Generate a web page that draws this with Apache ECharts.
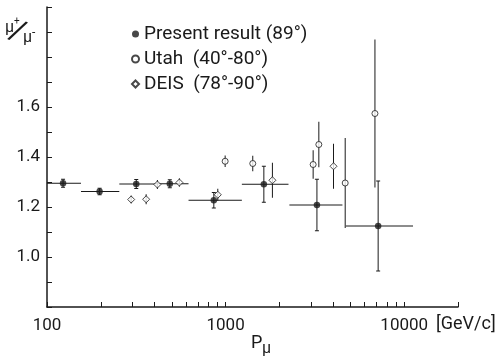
<!DOCTYPE html>
<html><head><meta charset="utf-8">
<script src="https://cdn.jsdelivr.net/npm/echarts@6/dist/echarts.min.js"></script>
<style>html,body{margin:0;padding:0;background:#fff}#c{width:500px;height:357px}</style>
</head><body><div id="c"></div>
<script>
// ---- data ----
const presentP = [123, 197, 316, 487, 859, 1637, 3245, 7145];
const presentRatio = [1.295, 1.262, 1.292, 1.293, 1.227, 1.291, 1.208, 1.124];
const presentErr = [0.016, 0.013, 0.018, 0.016, 0.031, 0.072, 0.103, 0.18];
const presentBinLo = [100, 155, 254, 400, 620, 1233, 2275, 4710];
const presentBinHi = [155, 254, 400, 620, 1233, 2249, 4508, 11200];
const utahP = [994, 1419, 3091, 3326, 4672, 6856];
const utahRatio = [1.383, 1.374, 1.370, 1.450, 1.296, 1.574];
const utahErr = [0.023, 0.031, 0.057, 0.091, 0.18, 0.296];
const deisP = [296, 359, 415, 551, 904, 1828, 4018];
const deisRatio = [1.230, 1.231, 1.290, 1.298, 1.249, 1.307, 1.363];
const deisErr = [0.016, 0.020, 0.018, 0.017, 0.024, 0.070, 0.090];
const xTickValues = [100,200,300,400,500,600,700,800,900,1000,2000,3000,4000,5000,6000,7000,8000,9000,10000,20000];
const xLabelValues = [100, 1000, 10000];
const yLabelValues = ['1.0', '1.2', '1.4', '1.6'];
const seriesNames = ['Present result (89°)', 'Utah  (40°-80°)', 'DEIS  (78°-90°)'];

const FONT = "Roboto, 'Noto Sans', sans-serif";
const INK = '#1a1a1a';
const X_MIN = 100, X_MAX = 20000;

function zip(a, b, c, d, e) {
  return a.map((v, i) => d ? [v, b[i], c[i], d[i], e[i]] : [v, b[i], c[i]]);
}

function errRender(withCaps, withH) {
  return function (params, api) {
    const x = api.value(0), y = api.value(1), e = api.value(2);
    const top = api.coord([x, y + e]), bot = api.coord([x, y - e]);
    const st = { stroke: INK, lineWidth: 1 };
    const ch = [{ type: 'line', shape: { x1: top[0], y1: top[1], x2: bot[0], y2: bot[1] }, style: st }];
    if (withCaps) {
      ch.push({ type: 'line', shape: { x1: top[0] - 2, y1: top[1], x2: top[0] + 2, y2: top[1] }, style: st });
      ch.push({ type: 'line', shape: { x1: bot[0] - 2, y1: bot[1], x2: bot[0] + 2, y2: bot[1] }, style: st });
    }
    if (withH) {
      const l = api.coord([api.value(3), y]), r = api.coord([api.value(4), y]);
      ch.push({ type: 'line', shape: { x1: l[0], y1: l[1], x2: r[0], y2: r[1] }, style: st });
    }
    return { type: 'group', children: ch };
  };
}

const chart = echarts.init(document.getElementById('c'), null, { renderer: 'canvas' });
chart.setOption({
  animation: false,
  backgroundColor: '#fff',
  grid: { left: 47, right: 42, top: 7, bottom: 50, containLabel: false },
  legend: {
    orient: 'vertical', left: 126, top: 19, itemGap: 5, itemWidth: 7, itemHeight: 7,
    textStyle: { fontFamily: FONT, fontSize: 19, color: INK, lineHeight: 20 },
    data: seriesNames
  },
  xAxis: [{
    type: 'log', logBase: 10, min: X_MIN, max: X_MAX,
    axisLine: { lineStyle: { color: INK, width: 1.5 } },
    axisTick: { show: false },
    axisLabel: { customValues: xLabelValues, margin: 10, fontFamily: FONT, fontSize: 17, color: INK,
      formatter: v => String(Math.round(v)) },
    splitLine: { show: false }, minorTick: { show: false }
  }, {
    // tick-only companion axis in log10 space (places the 2..9 x 10^n ticks)
    type: 'value', min: Math.log10(X_MIN), max: Math.log10(X_MAX), position: 'bottom',
    axisLine: { show: false },
    axisTick: { show: true, inside: true, length: 5, lineStyle: { color: INK, width: 1 },
      customValues: xTickValues.map(v => Math.log10(v)) },
    axisLabel: { show: false },
    splitLine: { show: false }
  }],
  yAxis: {
    type: 'value', min: 0.8, max: 2.0, interval: 0.1,
    axisLine: { show: true, lineStyle: { color: INK, width: 1.5 } },
    axisTick: { show: true, inside: true, length: 5, lineStyle: { color: INK } },
    axisLabel: {
      margin: 7, fontFamily: FONT, fontSize: 17, color: INK,
      formatter: v => yLabelValues.includes(v.toFixed(1)) ? v.toFixed(1) : ''
    },
    splitLine: { show: false }
  },
  series: [
    { type: 'custom', name: 'pErr', renderItem: errRender(true, true), encode: { x: 0, y: 1 },
      data: zip(presentP, presentRatio, presentErr, presentBinLo, presentBinHi), z: 2 },
    { type: 'custom', name: 'uErr', renderItem: errRender(false, false), encode: { x: 0, y: 1 },
      data: zip(utahP, utahRatio, utahErr), z: 2 },
    { type: 'custom', name: 'dErr', renderItem: errRender(false, false), encode: { x: 0, y: 1 },
      data: zip(deisP, deisRatio, deisErr), z: 2 },
    { type: 'scatter', name: seriesNames[0], symbol: 'circle', symbolSize: 6.5,
      itemStyle: { color: INK }, data: presentP.map((p, i) => [p, presentRatio[i]]), z: 5 },
    { type: 'scatter', name: seriesNames[1], symbol: 'circle', symbolSize: 6,
      itemStyle: { color: '#fff', borderColor: INK, borderWidth: 1 }, data: utahP.map((p, i) => [p, utahRatio[i]]), z: 5 },
    { type: 'scatter', name: seriesNames[2], symbol: 'diamond', symbolSize: 7,
      itemStyle: { color: '#fff', borderColor: INK, borderWidth: 1 }, data: deisP.map((p, i) => [p, deisRatio[i]]), z: 5 }
  ],
  graphic: [
    { type: 'text', style: { x: 436, y: 324, text: '[GeV/c]', font: "18px " + FONT, fill: INK, verticalAlign: 'middle' } },
    { type: 'text', style: { x: 251, y: 343, text: 'P', font: "18px " + FONT, fill: INK, verticalAlign: 'middle' } },
    { type: 'text', style: { x: 262, y: 349, text: 'μ', font: "16px " + FONT, fill: INK, verticalAlign: 'middle' } },
    { type: 'text', style: { x: 5, y: 28, text: 'μ', font: "16px " + FONT, fill: INK, verticalAlign: 'middle' } },
    { type: 'text', style: { x: 14, y: 21, text: '+', font: "10px " + FONT, fill: INK, verticalAlign: 'middle' } },
    { type: 'text', x: 17, y: 33, rotation: -0.45,
      style: { x: 0, y: 0, text: '/', font: "31px " + FONT, fill: INK, align: 'center', verticalAlign: 'middle' } },
    { type: 'text', style: { x: 23, y: 38, text: 'μ', font: "16px " + FONT, fill: INK, verticalAlign: 'middle' } },
    { type: 'text', style: { x: 32, y: 33, text: '-', font: "12px " + FONT, fill: INK, verticalAlign: 'middle' } }
  ]
});
</script></body></html>
